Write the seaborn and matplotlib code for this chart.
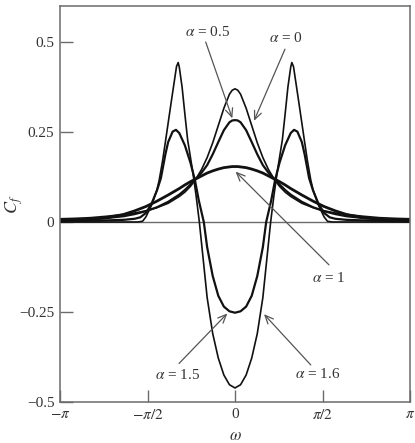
import numpy as np
import pandas as pd
import seaborn as sns
import matplotlib
matplotlib.use("Agg")
import matplotlib.pyplot as plt

PI = np.pi

# readings for omega >= 0 (the chart is symmetric about omega = 0)
w_main = [0, 0.05, 0.1, 0.2, 0.3, 0.4, 0.5, 0.6, 0.7, 0.8, 0.9, 1.0,
          1.2, 1.4, 1.6, 1.8, 2.0, 2.3, 2.6, 2.9, PI]
c_alpha0 = [0.370, 0.366, 0.355, 0.316, 0.268, 0.220, 0.179, 0.146, 0.120, 0.099, 0.083, 0.071,
            0.052, 0.040, 0.031, 0.025, 0.021, 0.016, 0.012, 0.010, 0.009]
c_alpha05 = [0.283, 0.282, 0.277, 0.255, 0.222, 0.188, 0.158, 0.137, 0.120, 0.104, 0.089, 0.076,
             0.056, 0.041, 0.030, 0.022, 0.016, 0.011, 0.008, 0.006, 0.005]
c_alpha1 = [0.154, 0.154, 0.153, 0.151, 0.147, 0.142, 0.136, 0.128, 0.120, 0.112, 0.103, 0.093,
            0.075, 0.058, 0.043, 0.031, 0.021, 0.012, 0.007, 0.004, 0.003]

w_a15 = [0, 0.1, 0.2, 0.3, 0.4, 0.5, 0.56, 0.65, 0.72, 0.8, 0.9, 1.0, 1.06, 1.12, 1.2,
         1.25, 1.33, 1.4, 1.5, 1.6, 1.7, 1.8, 2.0, 2.4, 2.8, PI]
c_alpha15 = [-0.252, -0.248, -0.235, -0.205, -0.150, -0.070, 0.0, 0.060, 0.117, 0.165, 0.213,
             0.247, 0.256, 0.251, 0.222, 0.188, 0.122, 0.088, 0.050, 0.025, 0.013, 0.009,
             0.006, 0.004, 0.003, 0.002]

w_a16 = [0, 0.1, 0.2, 0.3, 0.4, 0.5, 0.55, 0.6, 0.64, 0.7, 0.75, 0.8, 0.85, 0.9, 0.95, 1.0,
         1.02, 1.05, 1.1, 1.15, 1.2, 1.25, 1.3, 1.36, 1.4, 1.5, 1.6, 1.66, 1.75, 2.0, 2.5, PI]
c_alpha16 = [-0.461, -0.452, -0.425, -0.378, -0.310, -0.210, -0.135, -0.060, 0.0, 0.075, 0.130,
             0.180, 0.228, 0.300, 0.375, 0.430, 0.443, 0.432, 0.380, 0.328, 0.275, 0.222, 0.170,
             0.117, 0.090, 0.046, 0.014, 0.002, 0.0, 0.0, 0.0, 0.0]

x_ticks = [-PI, -PI / 2, 0, PI / 2, PI]
x_ticklabels = [r"$-\pi$", r"$-\pi/2$", "0", r"$\pi/2$", r"$\pi$"]
y_ticks = [-0.5, -0.25, 0, 0.25, 0.5]
y_ticklabels = ["\u22120.5", "\u22120.25", "0", "0.25", "0.5"]


def mirror(w, c):
    w = np.asarray(w, dtype=float)
    c = np.asarray(c, dtype=float)
    return np.concatenate([-w[::-1], w[1:]]), np.concatenate([c[::-1], c[1:]])


curves = [
    ("0", w_main, c_alpha0, 1.2),
    ("0.5", w_main, c_alpha05, 1.6),
    ("1", w_main, c_alpha1, 2.0),
    ("1.5", w_a15, c_alpha15, 1.6),
    ("1.6", w_a16, c_alpha16, 1.2),
]

sns.set_theme(style="white")
plt.rcParams["font.family"] = ["Liberation Serif", "DejaVu Serif"]
plt.rcParams["mathtext.fontset"] = "stix"

fig = plt.figure(figsize=(4.15, 4.43), dpi=100)
ax = fig.add_axes([60 / 415, 1 - 402 / 443, 350 / 415, 396 / 443])

for name, w, c, lw in curves:
    ww, cc = mirror(w, c)
    df = pd.DataFrame({"omega": ww, "C": cc})
    sns.lineplot(data=df, x="omega", y="C", ax=ax, color="#111111", lw=lw)

ax.axhline(0, color="#6b6b6b", lw=1.0, zorder=0)

ax.set_xlim(-PI, PI)
ax.set_ylim(-0.5, 0.6)
ax.set_xticks(x_ticks)
ax.set_xticklabels(x_ticklabels)
ax.set_yticks(y_ticks)
ax.set_yticklabels(y_ticklabels)
ax.tick_params(direction="in", length=9, width=1.0, color="#6b6b6b",
               labelsize=11, labelcolor="#333333", pad=4,
               left=True, bottom=True)
for s in ax.spines.values():
    s.set_color("#6b6b6b")
    s.set_linewidth(1.1)

ax.set_xlabel(r"$\omega$", fontsize=12, color="#333333")
ax.xaxis.set_label_coords(0.5, -0.065)
ax.set_ylabel(r"$C_f$", fontsize=13, color="#333333")
ax.yaxis.set_label_coords(-0.10, 0.5)

arrow_kw = dict(arrowstyle="->,head_length=0.5,head_width=0.22", color="#555555", lw=0.9,
                shrinkA=0, shrinkB=0)
labels = [
    ("0.5", (-0.485, 0.528), (-0.526, 0.50), (-0.048, 0.288)),
    ("0", (0.906, 0.512), (0.897, 0.48), (0.341, 0.281)),
    ("1", (1.687, -0.156), (1.687, -0.119), (0.01, 0.14)),
    ("1.5", (-1.04, -0.425), (-1.005, -0.393), (-0.138, -0.254)),
    ("1.6", (1.48, -0.422), (1.36, -0.397), (0.52, -0.256)),
]
for val, tpos, start, tip in labels:
    ax.annotate("", xy=tip, xytext=start, arrowprops=arrow_kw)
    ax.text(tpos[0], tpos[1], r"$\alpha$ = " + val, ha="center", va="center",
            fontsize=11, color="#333333")

fig.savefig("out.png", dpi=100)
